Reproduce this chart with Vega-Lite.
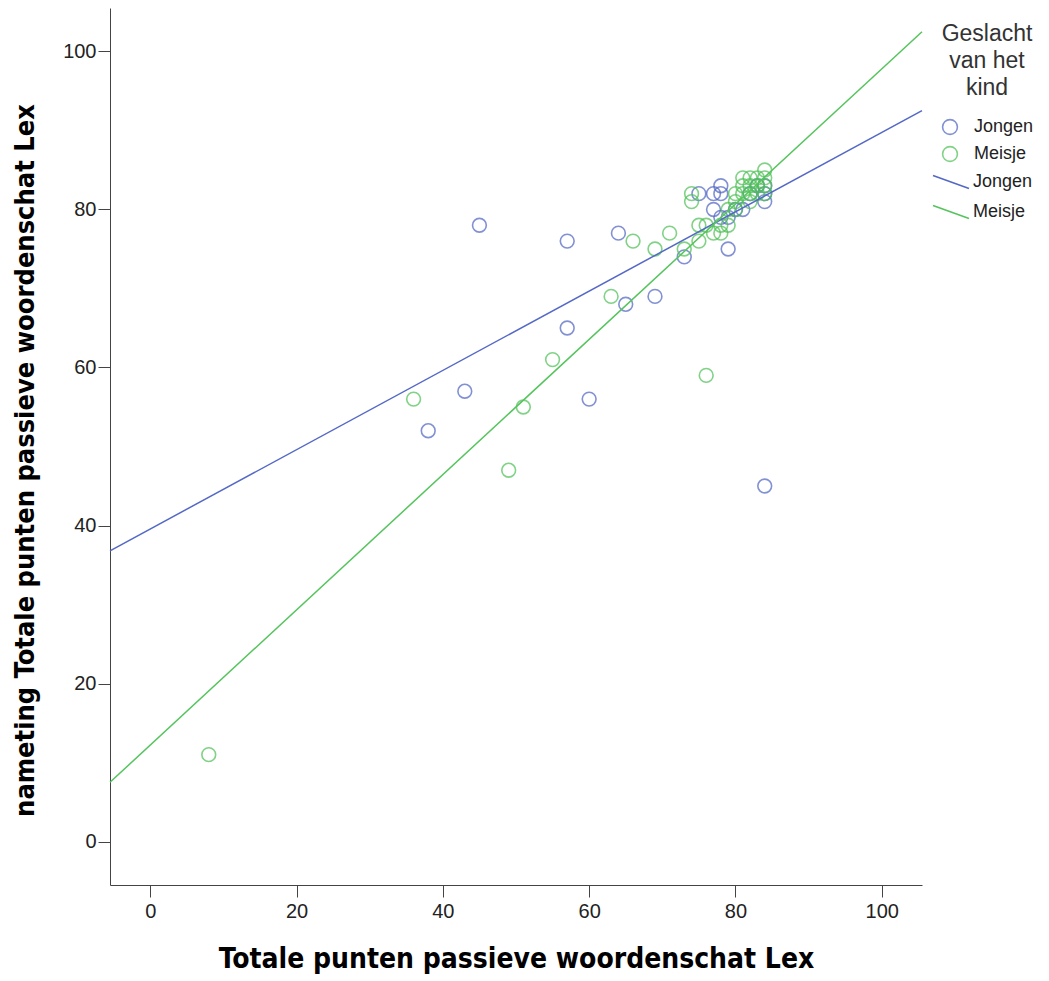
{
  "$schema": "https://vega.github.io/schema/vega-lite/v6.json",
  "autosize": "none",
  "width": 812,
  "height": 877,
  "padding": {"left": 110, "top": 8, "right": 127, "bottom": 96},
  "background": "white",
  "config": {
    "view": {"stroke": null},
    "font": "Liberation Sans",
    "axis": {"grid": false, "domainColor": "#444", "tickColor": "#444", "tickSize": 12, "labelColor": "#222", "titleColor": "#000", "titleFontWeight": "bold", "titleFont": "DejaVu Sans Condensed, Liberation Sans, sans-serif", "titleFontSize": 28, "labelFont": "Liberation Sans", "labelFontSize": 20},
    "legend": {"labelFont": "Liberation Sans", "titleFont": "Liberation Sans"}
  },
  "datasets": {
    "pts": [
      {"x": 45, "y": 78, "g": "Jongen"}, {"x": 57, "y": 76, "g": "Jongen"}, {"x": 64, "y": 77, "g": "Jongen"},
      {"x": 57, "y": 65, "g": "Jongen"}, {"x": 65, "y": 68, "g": "Jongen"}, {"x": 69, "y": 69, "g": "Jongen"},
      {"x": 60, "y": 56, "g": "Jongen"}, {"x": 43, "y": 57, "g": "Jongen"}, {"x": 38, "y": 52, "g": "Jongen"},
      {"x": 84, "y": 45, "g": "Jongen"}, {"x": 73, "y": 74, "g": "Jongen"}, {"x": 79, "y": 75, "g": "Jongen"},
      {"x": 75, "y": 82, "g": "Jongen"}, {"x": 77, "y": 82, "g": "Jongen"}, {"x": 78, "y": 83, "g": "Jongen"},
      {"x": 78, "y": 82, "g": "Jongen"}, {"x": 77, "y": 80, "g": "Jongen"}, {"x": 81, "y": 80, "g": "Jongen"},
      {"x": 84, "y": 81, "g": "Jongen"}, {"x": 78, "y": 79, "g": "Jongen"}, {"x": 79, "y": 79, "g": "Jongen"},
      {"x": 80, "y": 80, "g": "Jongen"}, {"x": 83, "y": 83, "g": "Jongen"}, {"x": 84, "y": 82, "g": "Jongen"},
      {"x": 82, "y": 82, "g": "Jongen"}, {"x": 84, "y": 83, "g": "Jongen"},
      {"x": 8, "y": 11, "g": "Meisje"}, {"x": 36, "y": 56, "g": "Meisje"}, {"x": 49, "y": 47, "g": "Meisje"},
      {"x": 51, "y": 55, "g": "Meisje"}, {"x": 55, "y": 61, "g": "Meisje"}, {"x": 63, "y": 69, "g": "Meisje"},
      {"x": 66, "y": 76, "g": "Meisje"}, {"x": 69, "y": 75, "g": "Meisje"}, {"x": 71, "y": 77, "g": "Meisje"},
      {"x": 76, "y": 59, "g": "Meisje"}, {"x": 74, "y": 82, "g": "Meisje"}, {"x": 74, "y": 81, "g": "Meisje"},
      {"x": 73, "y": 75, "g": "Meisje"}, {"x": 75, "y": 78, "g": "Meisje"}, {"x": 75, "y": 76, "g": "Meisje"},
      {"x": 76, "y": 78, "g": "Meisje"}, {"x": 77, "y": 77, "g": "Meisje"}, {"x": 78, "y": 77, "g": "Meisje"},
      {"x": 78, "y": 78, "g": "Meisje"}, {"x": 79, "y": 78, "g": "Meisje"}, {"x": 80, "y": 81, "g": "Meisje"},
      {"x": 80, "y": 80, "g": "Meisje"}, {"x": 81, "y": 84, "g": "Meisje"}, {"x": 81, "y": 83, "g": "Meisje"},
      {"x": 81, "y": 82, "g": "Meisje"}, {"x": 82, "y": 84, "g": "Meisje"}, {"x": 82, "y": 83, "g": "Meisje"},
      {"x": 82, "y": 82, "g": "Meisje"}, {"x": 83, "y": 84, "g": "Meisje"}, {"x": 83, "y": 83, "g": "Meisje"},
      {"x": 83, "y": 82, "g": "Meisje"}, {"x": 84, "y": 84, "g": "Meisje"}, {"x": 84, "y": 83, "g": "Meisje"},
      {"x": 84, "y": 82, "g": "Meisje"}, {"x": 84, "y": 85, "g": "Meisje"}, {"x": 82, "y": 81, "g": "Meisje"},
      {"x": 80, "y": 82, "g": "Meisje"}, {"x": 79, "y": 80, "g": "Meisje"}
    ],
    "fit": [
      {"x": -5.5, "y": 36.8, "geslacht": "Jongen"}, {"x": 105.5, "y": 92.5, "geslacht": "Jongen"},
      {"x": -5.5, "y": 7.5, "geslacht": "Meisje"}, {"x": 105.5, "y": 102.5, "geslacht": "Meisje"}
    ]
  },
  "layer": [
    {
      "data": {"name": "pts"},
      "mark": {"type": "point", "shape": "circle", "filled": false, "size": 190, "strokeWidth": 1.6},
      "encoding": {
        "x": {"field": "x", "type": "quantitative", "scale": {"domain": [-5.5, 105.5], "nice": false, "zero": false},
              "axis": {"values": [0, 20, 40, 60, 80, 100], "title": "Totale punten passieve woordenschat Lex", "labelPadding": 4, "titlePadding": 24}},
        "y": {"field": "y", "type": "quantitative", "scale": {"domain": [-5.5, 105.5], "nice": false, "zero": false},
              "axis": {"values": [0, 20, 40, 60, 80, 100], "title": "nameting Totale punten passieve woordenschat Lex", "labelPadding": 2, "titlePadding": 23, "titleY": 452, "titleFontSize": 27}},
        "color": {"field": "g", "type": "nominal", "scale": {"range": ["#4E63C2", "#4CC054"]},
                  "legend": {"title": ["Geslacht", "van het", "kind"], "orient": "none", "legendX": 831, "legendY": 15, "padding": 0,
                             "titleFontSize": 23, "titleFontWeight": "normal", "titleColor": "#333", "titleAlign": "center", "titleAnchor": "middle", "titlePadding": 18, "titleLineHeight": 27,
                             "labelFontSize": 18, "labelColor": "#222", "labelOffset": 15, "symbolSize": 220, "symbolStrokeWidth": 1.6, "rowPadding": 5}}
      }
    },
    {
      "data": {"name": "fit"},
      "mark": {"type": "line", "strokeWidth": 1.5},
      "encoding": {
        "x": {"field": "x", "type": "quantitative"},
        "y": {"field": "y", "type": "quantitative"},
        "stroke": {"field": "geslacht", "type": "nominal", "scale": {"range": ["#5468C6", "#55C45D"]},
                   "legend": {"title": null, "orient": "none", "legendX": 831, "legendY": 164, "padding": 0,
                              "labelFontSize": 18, "labelColor": "#222", "labelOffset": 12, "symbolSize": 324, "symbolType": "M-2,-0.72L2,0.72", "symbolStrokeWidth": 1.5, "rowPadding": 10}}
      }
    }
  ]
}
